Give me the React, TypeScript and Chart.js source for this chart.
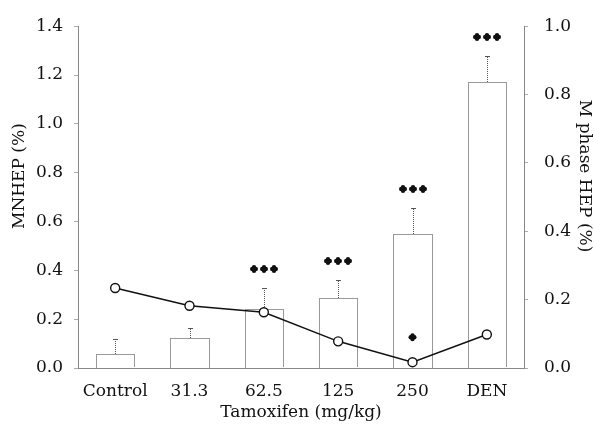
import React, { useEffect, useRef } from "react";
import { Chart, registerables } from "chart.js";
Chart.register(...registerables);

const categories = ["Control", "31.3", "62.5", "125", "250", "DEN"];
const mnhep = [0.056, 0.122, 0.241, 0.288, 0.549, 1.171];
const mnhepErr = [0.061, 0.041, 0.085, 0.074, 0.108, 0.105];
const mphase = [0.234, 0.182, 0.163, 0.078, 0.017, 0.098];
const barStars = [0, 0, 3, 3, 3, 3];
const lineStars = [0, 0, 0, 0, 1, 0];
const leftTicks = [0, 0.2, 0.4, 0.6, 0.8, 1.0, 1.2, 1.4];
const rightTicks = [0, 0.2, 0.4, 0.6, 0.8, 1.0];
const leftTitle = "MNHEP (%)";
const rightTitle = "M phase HEP (%)";
const xTitle = "Tamoxifen (mg/kg)";

const FONT = "'DejaVu Serif', serif";

function drawClover(ctx: CanvasRenderingContext2D, x: number, y: number) {
  const r = 2.2;
  const o = 1.8;
  const pts = [
    [x - o, y],
    [x + o, y],
    [x, y - o],
    [x, y + o],
  ];
  for (const [cx, cy] of pts) {
    ctx.beginPath();
    ctx.arc(cx, cy, r, 0, Math.PI * 2);
    ctx.fill();
  }
}

const annotPlugin = {
  id: "annot",
  afterDatasetDraw(chart: any, args: any) {
    if (args.index !== 1) return;
    const ctx = chart.ctx as CanvasRenderingContext2D;
    const yL = chart.scales.y;
    const barMeta = chart.getDatasetMeta(1);
    ctx.save();
    ctx.strokeStyle = "#333";
    ctx.lineWidth = 1;
    ctx.setLineDash([1, 1]);
    barMeta.data.forEach((bar: any) => {
      const l = Math.round(bar.x - bar.width / 2) + 0.5;
      const r = Math.round(bar.x + bar.width / 2) + 0.5;
      const t = Math.round(bar.y) + 0.5;
      const b = bar.base;
      ctx.beginPath();
      ctx.moveTo(l, b);
      ctx.lineTo(l, t);
      ctx.lineTo(r, t);
      ctx.lineTo(r, b);
      ctx.stroke();
    });
    barMeta.data.forEach((bar: any, i: number) => {
      const x = Math.round(bar.x);
      const top = Math.round(yL.getPixelForValue(mnhep[i]));
      const et = Math.round(yL.getPixelForValue(mnhep[i] + mnhepErr[i]));
      ctx.strokeStyle = "#555";
      ctx.lineWidth = 1;
      ctx.setLineDash([1, 1]);
      ctx.beginPath();
      ctx.moveTo(x + 0.5, top);
      ctx.lineTo(x + 0.5, et);
      ctx.stroke();
      ctx.setLineDash([]);
      ctx.beginPath();
      ctx.moveTo(x - 2, et + 0.5);
      ctx.lineTo(x + 3, et + 0.5);
      ctx.stroke();
      ctx.fillStyle = "#111";
      const n = barStars[i];
      for (let k = 0; k < n; k++) {
        drawClover(ctx, x + (k - (n - 1) / 2) * 10, et - 19);
      }
    });
    ctx.restore();
  },
  afterDatasetsDraw(chart: any) {
    const ctx = chart.ctx as CanvasRenderingContext2D;
    const yR = chart.scales.y1;
    const lineMeta = chart.getDatasetMeta(0);
    ctx.save();
    lineMeta.data.forEach((pt: any, i: number) => {
      const n = lineStars[i];
      ctx.fillStyle = "#111";
      for (let k = 0; k < n; k++) {
        drawClover(ctx, pt.x + (k - (n - 1) / 2) * 10, yR.getPixelForValue(mphase[i]) - 25);
      }
    });
    ctx.restore();
  },
  afterDraw(chart: any) {
    const ctx = chart.ctx as CanvasRenderingContext2D;
    const area = chart.chartArea;
    const cy = (area.top + area.bottom) / 2 - 21;
    ctx.save();
    ctx.fillStyle = "#111";
    ctx.font = `17px ${FONT}`;
    ctx.textAlign = "center";
    ctx.textBaseline = "middle";
    ctx.translate(20, cy);
    ctx.rotate(-Math.PI / 2);
    ctx.fillText(leftTitle, 0, 0);
    ctx.restore();
    ctx.save();
    ctx.fillStyle = "#111";
    ctx.font = `17px ${FONT}`;
    ctx.textAlign = "center";
    ctx.textBaseline = "middle";
    ctx.translate(584, cy);
    ctx.rotate(Math.PI / 2);
    ctx.fillText(rightTitle, 0, 0);
    ctx.restore();
  },
};

export default function App() {
  const ref = useRef<HTMLCanvasElement>(null);
  useEffect(() => {
    if (!ref.current) return;
    const chart = new Chart(ref.current, {
      type: "bar",
      data: {
        labels: categories,
        datasets: [
          {
            type: "line",
            data: mphase,
            yAxisID: "y1",
            borderColor: "#111",
            borderWidth: 1.5,
            pointRadius: 4.5,
            pointBackgroundColor: "#fff",
            pointBorderColor: "#111",
            pointBorderWidth: 1.4,
            order: 0,
          } as any,
          {
            type: "bar",
            data: mnhep,
            yAxisID: "y",
            backgroundColor: "#fff",
            borderColor: "rgba(0,0,0,0)",
            borderWidth: 0,
            barPercentage: 0.52,
            categoryPercentage: 1,
            order: 1,
          },
        ],
      },
      options: {
        responsive: false,
        animation: false,
        layout: { padding: { top: 10, left: 0, right: 0, bottom: 0 } },
        plugins: { legend: { display: false }, tooltip: { enabled: false } },
        scales: {
          x: {
            grid: { display: false },
            border: { display: true, color: "#888", dash: [1, 1] },
            ticks: { color: "#111", font: { family: FONT, size: 17 }, padding: 5 },
            title: {
              display: true,
              text: xTitle,
              color: "#111",
              font: { family: FONT, size: 17 },
              padding: { top: 0, bottom: 8 },
            },
            afterFit(s: any) {
              s.height = 63;
            },
          },
          y: {
            position: "left",
            min: 0,
            max: 1.4,
            afterBuildTicks(s: any) {
              s.ticks = leftTicks.map((v) => ({ value: v }));
            },
            grid: { drawOnChartArea: false, tickLength: 4, tickColor: "#aaa" },
            border: { display: true, color: "#888", dash: [1, 1] },
            ticks: {
              color: "#111",
              font: { family: FONT, size: 17 },
              padding: 11,
              callback: (v: any) => Number(v).toFixed(1),
            },
            afterFit(s: any) {
              s.width = 78;
            },
          },
          y1: {
            position: "right",
            min: 0,
            max: 1.0,
            afterBuildTicks(s: any) {
              s.ticks = rightTicks.map((v) => ({ value: v }));
            },
            grid: { drawOnChartArea: false, tickLength: 4, tickColor: "#aaa" },
            border: { display: true, color: "#888", dash: [1, 1] },
            ticks: {
              color: "#111",
              font: { family: FONT, size: 17 },
              padding: 16,
              callback: (v: any) => Number(v).toFixed(1),
            },
            afterFit(s: any) {
              s.width = 70;
            },
          },
        },
      },
      plugins: [annotPlugin],
    });
    return () => chart.destroy();
  }, []);
  return (
    <div style={{ position: "fixed", left: 0, top: 0, width: 594, height: 431, background: "#fff" }}>
      <canvas ref={ref} width={594} height={431} />
    </div>
  );
}
